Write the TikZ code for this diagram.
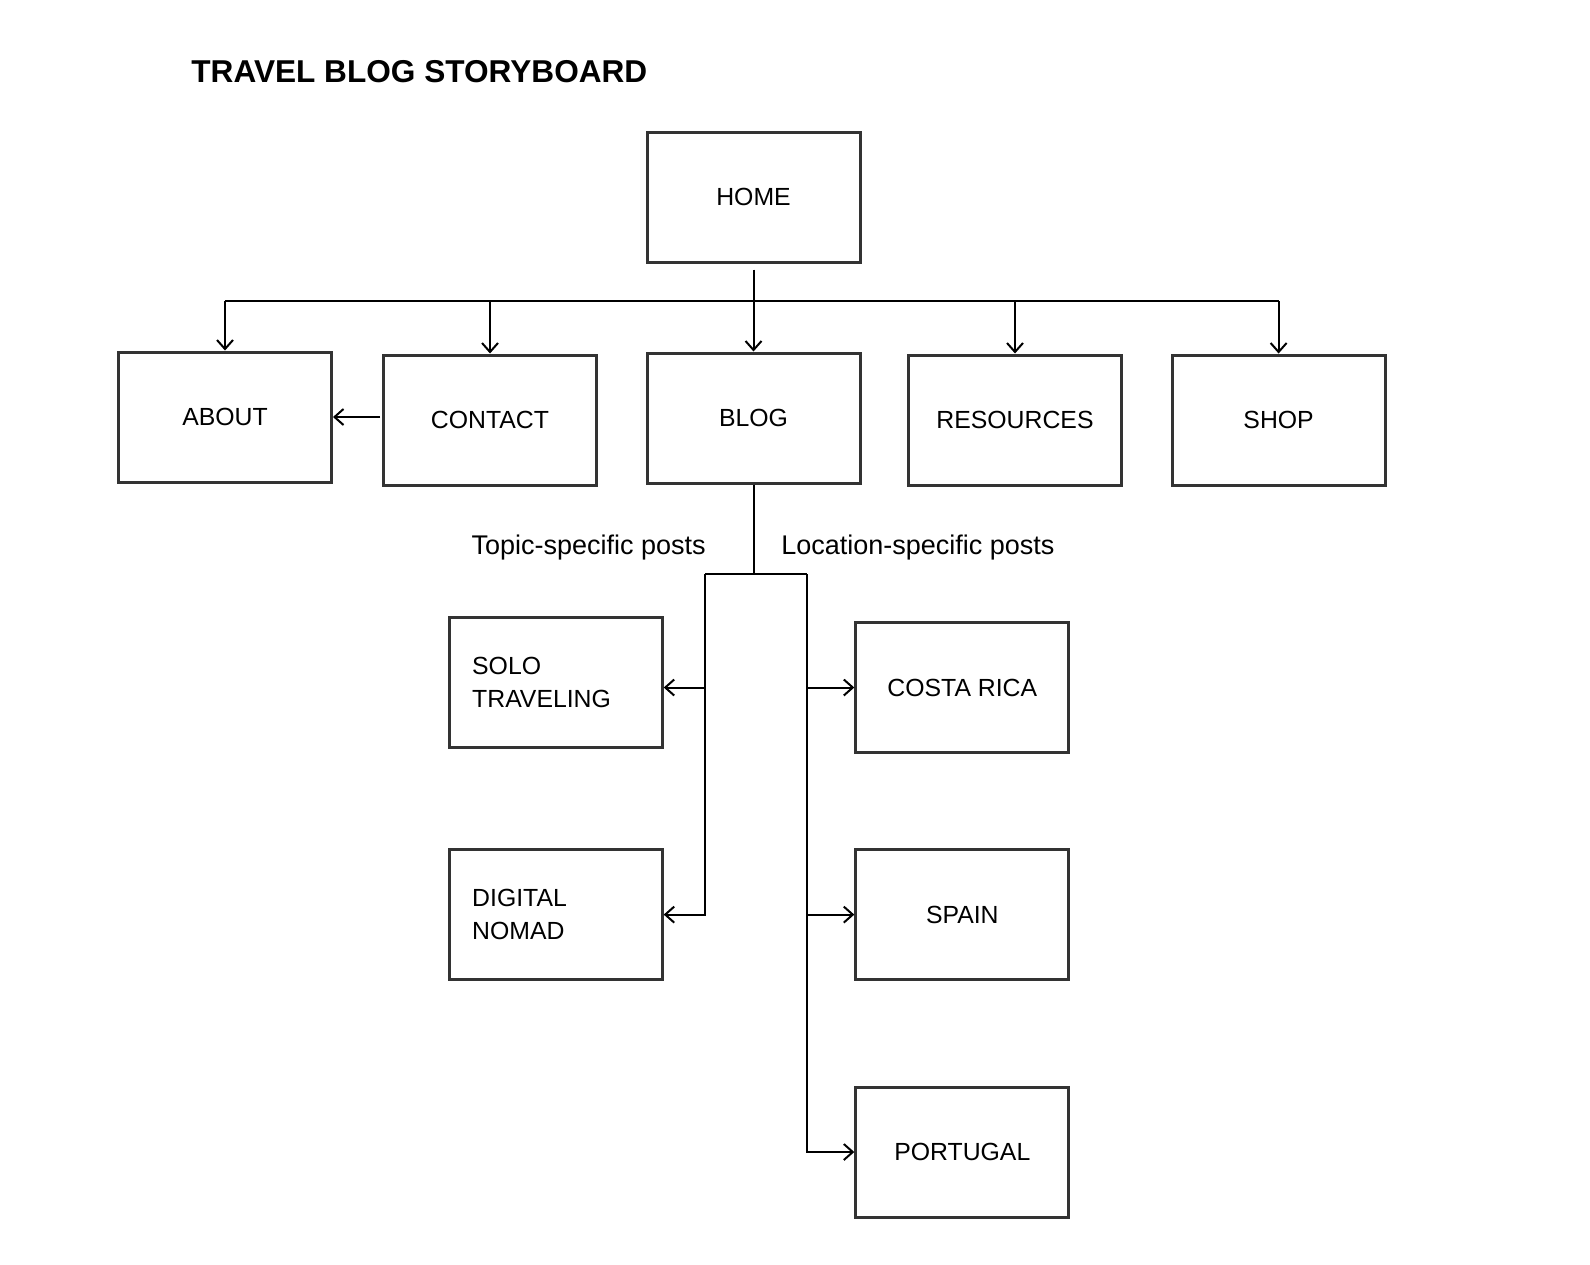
\documentclass[tikz,border=0pt]{standalone}
\usepackage{fontspec}
\setmainfont{Liberation Sans}
\usetikzlibrary{arrows.meta}
\definecolor{pagegray}{HTML}{333333}

\begin{document}
\begin{tikzpicture}
	[
		x=0.5pt, y=-0.5pt,
		page/.style = {
			shape=rectangle, draw=pagegray, line width=1.5pt,
			minimum width=106.5pt, minimum height=65pt,
			align=center, inner sep=0pt,
			font=\fontsize{12.4}{16.2}\selectfont
		},
		topic/.style = {
			inner xsep=11.5pt, text width=83.5pt, align=left
		},
		note/.style = {
			inner sep=0pt, font=\fontsize{13.5}{16}\selectfont
		},
		heading/.style = {
			inner sep=0pt, anchor=west,
			font=\bfseries\fontsize{15.8}{19}\selectfont
		},
		link/.style = {
			line width=1pt, black
		},
		>={Straight Barb[length=4.5pt,width=8pt]}
	]
	\useasboundingbox (0,0) rectangle (1590,1264);

	\node[heading] (title) at (191,72) {TRAVEL BLOG STORYBOARD};

	% top level pages
	\node[page] (home) at (753.5,197) {HOME};
	\node[page] (about) at (225,417) {ABOUT};
	\node[page] (contact) at (490,420) {CONTACT};
	\node[page] (blog) at (753.5,418) {BLOG};
	\node[page] (resources) at (1015,420) {RESOURCES};
	\node[page] (shop) at (1278.6,420) {SHOP};

	% blog posts
	\node[page, topic] (solo) at (555.7,682.4) {SOLO\\TRAVELING};
	\node[page, topic] (nomad) at (555.7,914.6) {DIGITAL\\NOMAD};
	\node[page] (costarica) at (962.3,687.5) {COSTA RICA};
	\node[page] (spain) at (962.3,914.6) {SPAIN};
	\node[page] (portugal) at (962.3,1152) {PORTUGAL};

	\node[note, anchor=east] (topiclabel) at (706,548) {Topic-specific posts};
	\node[note, anchor=west] (placelabel) at (781,548) {Location-specific posts};

	% home to pages
	\coordinate (bus) at (753.5,301);
	\draw[link] ([yshift=-3pt]home.south) -- (bus);
	\draw[link] (bus -| about) -- (bus -| shop);
	\foreach \n in {about,contact,blog,resources,shop}
		\draw[link,->] (bus -| \n.north) -- (\n.north);
	\draw[link,->] ([xshift=-1pt]contact.west |- about.east) -- (about.east);

	% blog to posts
	\coordinate (fork) at (753.5,574);
	\coordinate (topicbar) at (705,574);
	\coordinate (placebar) at (807,574);
	\draw[link] (blog.south) -- (fork);
	\draw[link] (topicbar) -- (placebar);
	\draw[link,->] (topicbar) |- (nomad.east);
	\draw[link,->] (topicbar |- costarica) -- (solo.east |- costarica);
	\draw[link,->] (placebar) |- (portugal.west);
	\draw[link,->] (placebar |- costarica) -- (costarica.west);
	\draw[link,->] (placebar |- spain) -- (spain.west);
\end{tikzpicture}
\end{document}
